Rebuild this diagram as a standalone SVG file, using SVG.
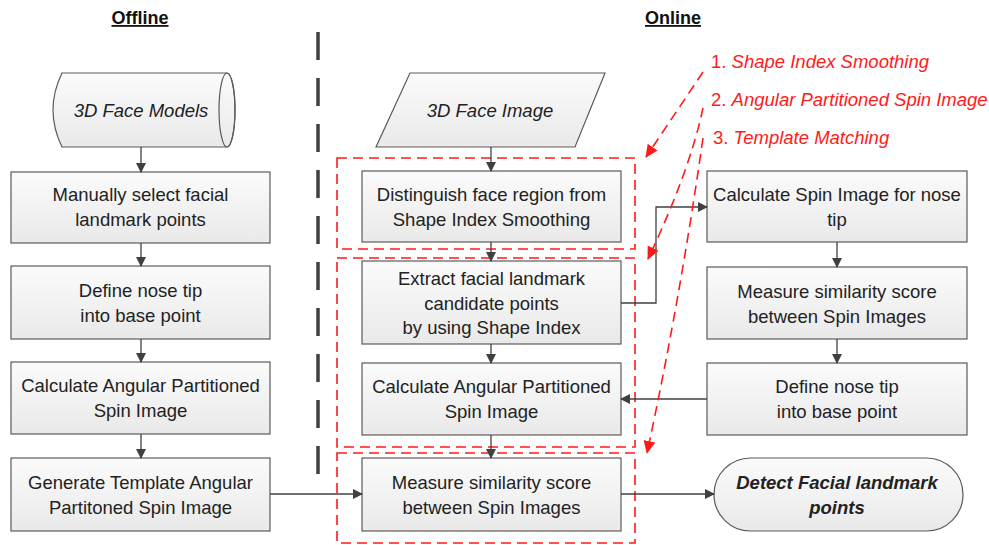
<svg xmlns="http://www.w3.org/2000/svg" width="989" height="545" viewBox="0 0 989 545">
<defs>
<linearGradient id="g" x1="0" y1="0" x2="0" y2="1"><stop offset="0" stop-color="#fbfbfb"/><stop offset="1" stop-color="#e9e9e9"/></linearGradient>
<marker id="ah" markerWidth="10" markerHeight="10" refX="9" refY="5" orient="auto" markerUnits="userSpaceOnUse"><path d="M0,0 L10,5 L0,10 z" fill="#404040"/></marker>
<marker id="rh" markerWidth="14" markerHeight="14" refX="12" refY="6" orient="auto" markerUnits="userSpaceOnUse"><path d="M0,0 L13,6 L0,12 z" fill="#ff1a1a"/></marker>
</defs>
<style>
.b{fill:url(#g);stroke:#5a5a5a;stroke-width:1.2}
.t{font-family:"Liberation Sans",Arial,sans-serif;font-size:18.5px;fill:#222;text-anchor:middle}
.i{font-style:italic}
.h{font-family:"Liberation Sans",Arial,sans-serif;font-size:18px;font-weight:bold;fill:#111;text-anchor:middle;text-decoration:underline}
.c{fill:none;stroke:#404040;stroke-width:1.3}
.rd{fill:none;stroke:#ff1a1a;stroke-width:1.6;stroke-dasharray:10 6}
.rt{font-family:"Liberation Sans",Arial,sans-serif;font-size:18.5px;fill:#ff1a1a}
</style>
<rect width="989" height="545" fill="#fff"/>
<text class="h" x="140" y="24">Offline</text>
<text class="h" x="673" y="24">Online</text>
<line x1="318" y1="32" x2="318" y2="474" stroke="#404040" stroke-width="3.5" stroke-dasharray="28 18"/>

<g id="faceModels">
<path class="b" d="M62,73 L227,73 A8,37 0 0 1 227,147 L62,147 Q44,110 62,73 z"/>
<ellipse cx="227" cy="110" rx="8" ry="37" fill="none" stroke="#5a5a5a" stroke-width="1.2"/>
<text class="t i" x="141" y="116.5">3D Face Models</text>
</g>
<g id="manualSelect"><rect class="b" x="11" y="172" width="259" height="71"/><text class="t" x="140.5" y="201">Manually select facial</text><text class="t" x="140.5" y="226">landmark points</text></g>
<g id="defineNoseL"><rect class="b" x="11" y="266" width="259" height="73"/><text class="t" x="140.5" y="297">Define nose tip</text><text class="t" x="140.5" y="322">into base point</text></g>
<g id="calcAPSIL"><rect class="b" x="11" y="362" width="259" height="72"/><text class="t" x="140.5" y="392">Calculate Angular Partitioned</text><text class="t" x="140.5" y="417">Spin Image</text></g>
<g id="genTemplate"><rect class="b" x="11" y="458" width="259" height="73"/><text class="t" x="140.5" y="489">Generate Template Angular</text><text class="t" x="140.5" y="514">Partitoned Spin Image</text></g>

<g id="faceImage"><path class="b" d="M410,73 L605,73 L575,147 L376,147 z"/><text class="t i" x="490" y="116.5">3D Face Image</text></g>
<g id="distinguish"><rect class="b" x="362" y="171" width="259" height="71"/><text class="t" x="491.5" y="201">Distinguish face region from</text><text class="t" x="491.5" y="226">Shape Index Smoothing</text></g>
<g id="extract"><rect class="b" x="362" y="261" width="259" height="83"/><text class="t" x="491.5" y="285">Extract  facial landmark</text><text class="t" x="491.5" y="309.5">candidate points</text><text class="t" x="491.5" y="334">by using Shape Index</text></g>
<g id="calcAPSIM"><rect class="b" x="362" y="363" width="259" height="72"/><text class="t" x="491.5" y="393">Calculate Angular Partitioned</text><text class="t" x="491.5" y="418">Spin Image</text></g>
<g id="measureM"><rect class="b" x="362" y="458" width="259" height="73"/><text class="t" x="491.5" y="489">Measure similarity score</text><text class="t" x="491.5" y="514">between Spin Images</text></g>

<g id="calcSpinNose"><rect class="b" x="707" y="171" width="260" height="71"/><text class="t" x="837" y="201">Calculate Spin Image for nose</text><text class="t" x="837" y="226">tip</text></g>
<g id="measureR"><rect class="b" x="707" y="267" width="260" height="72"/><text class="t" x="837" y="297.5">Measure similarity score</text><text class="t" x="837" y="322.5">between Spin Images</text></g>
<g id="defineNoseR"><rect class="b" x="707" y="363" width="260" height="72"/><text class="t" x="837" y="393">Define nose tip</text><text class="t" x="837" y="418">into base point</text></g>
<g id="detect"><rect class="b" x="714" y="458" width="249" height="73" rx="36.5" ry="36.5"/><text class="t i" font-weight="bold" x="837" y="489">Detect Facial landmark</text><text class="t i" font-weight="bold" x="837" y="514">points</text></g>

<g id="regions">
<rect class="rd" x="337" y="158" width="298" height="91"/>
<rect class="rd" x="337" y="258" width="298" height="189"/>
<rect class="rd" x="337" y="453" width="298" height="90"/>
</g>

<g id="connectors">
<line class="c" x1="141" y1="147" x2="141" y2="172" marker-end="url(#ah)"/>
<line class="c" x1="141" y1="243" x2="141" y2="266" marker-end="url(#ah)"/>
<line class="c" x1="141" y1="339" x2="141" y2="362" marker-end="url(#ah)"/>
<line class="c" x1="141" y1="434" x2="141" y2="458" marker-end="url(#ah)"/>
<line class="c" x1="491" y1="147" x2="491" y2="171" marker-end="url(#ah)"/>
<line class="c" x1="491" y1="242" x2="491" y2="261" marker-end="url(#ah)"/>
<line class="c" x1="491" y1="344" x2="491" y2="363" marker-end="url(#ah)"/>
<line class="c" x1="491" y1="435" x2="491" y2="458" marker-end="url(#ah)"/>
<line class="c" x1="837" y1="242" x2="837" y2="267" marker-end="url(#ah)"/>
<line class="c" x1="837" y1="339" x2="837" y2="363" marker-end="url(#ah)"/>
<polyline class="c" points="621,303 656,303 656,207 707,207" marker-end="url(#ah)"/>
<line class="c" x1="707" y1="399" x2="621" y2="399" marker-end="url(#ah)"/>
<line class="c" x1="270" y1="494" x2="362" y2="494" marker-end="url(#ah)"/>
<line class="c" x1="621" y1="494" x2="714" y2="494" marker-end="url(#ah)"/>
</g>

<g id="annotations">
<text class="rt" x="711" y="68">1. <tspan font-style="italic">Shape Index Smoothing</tspan></text>
<text class="rt" x="711" y="106">2. <tspan font-style="italic">Angular Partitioned Spin Image</tspan></text>
<text class="rt" x="713" y="144">3. <tspan font-style="italic">Template Matching</tspan></text>
<path class="rd" d="M703,72 L646,157" marker-end="url(#rh)"/>
<path class="rd" d="M703,108 Q690,170 648,259" marker-end="url(#rh)"/>
<path class="rd" d="M703,138 Q680,300 647,453" marker-end="url(#rh)"/>
</g>
</svg>
